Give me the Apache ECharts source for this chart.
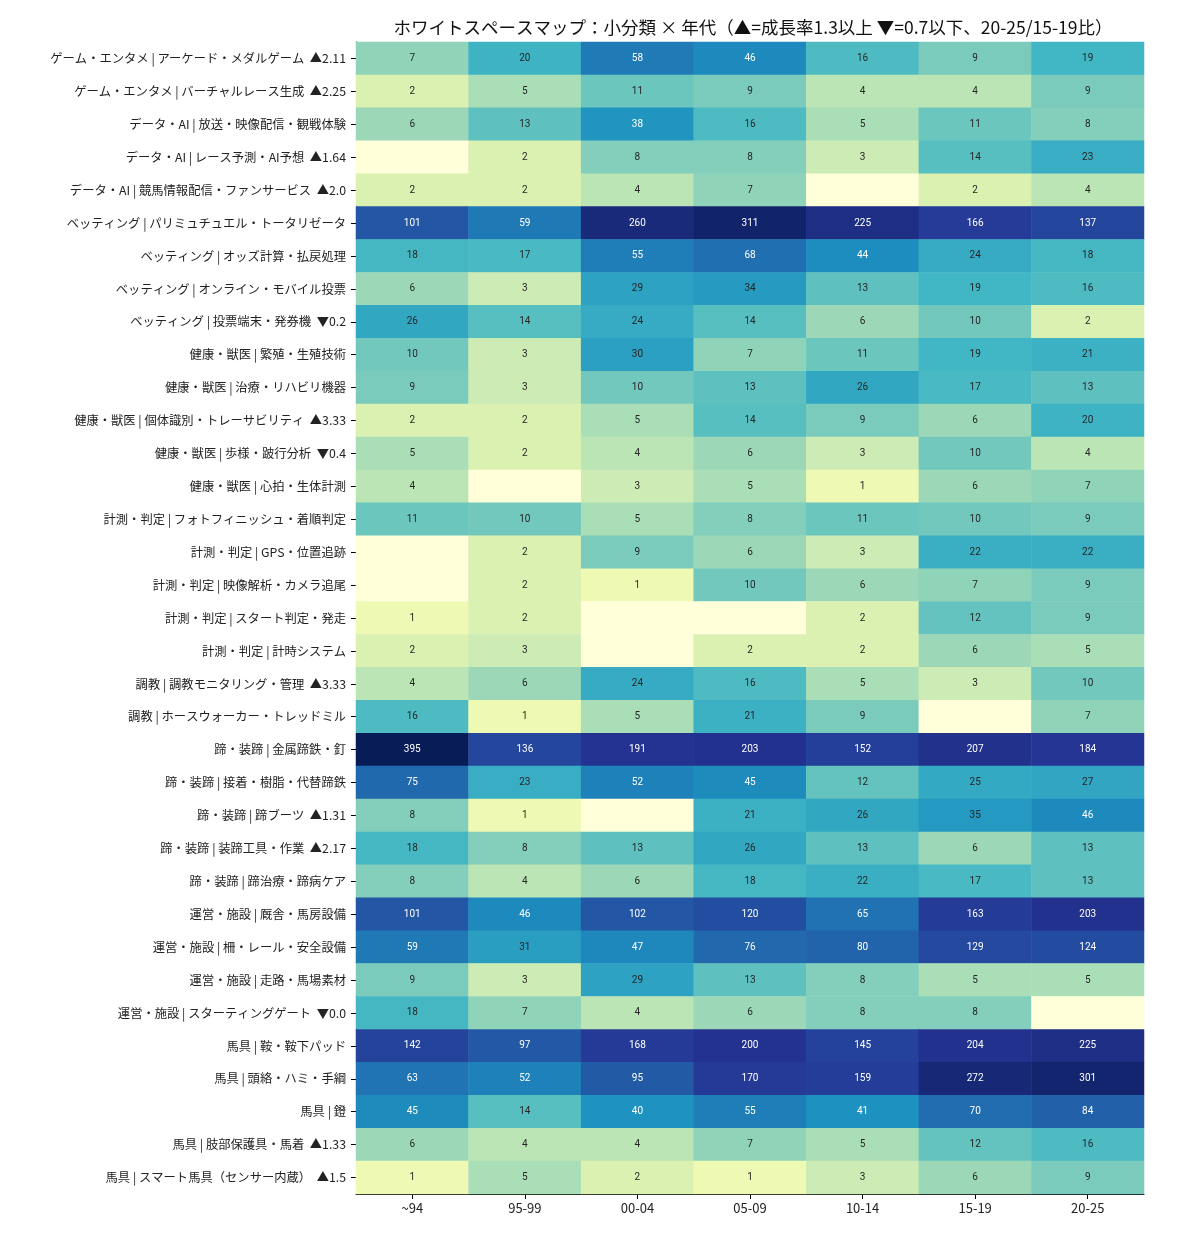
<!DOCTYPE html>
<html>
<head>
<meta charset="utf-8">
<script src="https://cdn.jsdelivr.net/npm/echarts@6/dist/echarts.min.js"></script>
<style>
  html, body { margin: 0; padding: 0; background: #fff; }
  #main { width: 1188px; height: 1236px; }
</style>
</head>
<body>
<div id="main"></div>
<script>
// 年代（列）
var periods = ['~94', '95-99', '00-04', '05-09', '10-14', '15-19', '20-25']
// 小分類（行）
var subCats = [
  'ゲーム・エンタメ | アーケード・メダルゲーム  ▲2.11',
  'ゲーム・エンタメ | バーチャルレース生成  ▲2.25',
  'データ・AI | 放送・映像配信・観戦体験',
  'データ・AI | レース予測・AI予想  ▲1.64',
  'データ・AI | 競馬情報配信・ファンサービス  ▲2.0',
  'ベッティング | パリミュチュエル・トータリゼータ',
  'ベッティング | オッズ計算・払戻処理',
  'ベッティング | オンライン・モバイル投票',
  'ベッティング | 投票端末・発券機  ▼0.2',
  '健康・獣医 | 繁殖・生殖技術',
  '健康・獣医 | 治療・リハビリ機器',
  '健康・獣医 | 個体識別・トレーサビリティ  ▲3.33',
  '健康・獣医 | 歩様・跛行分析  ▼0.4',
  '健康・獣医 | 心拍・生体計測',
  '計測・判定 | フォトフィニッシュ・着順判定',
  '計測・判定 | GPS・位置追跡',
  '計測・判定 | 映像解析・カメラ追尾',
  '計測・判定 | スタート判定・発走',
  '計測・判定 | 計時システム',
  '調教 | 調教モニタリング・管理  ▲3.33',
  '調教 | ホースウォーカー・トレッドミル',
  '蹄・装蹄 | 金属蹄鉄・釘',
  '蹄・装蹄 | 接着・樹脂・代替蹄鉄',
  '蹄・装蹄 | 蹄ブーツ  ▲1.31',
  '蹄・装蹄 | 装蹄工具・作業  ▲2.17',
  '蹄・装蹄 | 蹄治療・蹄病ケア',
  '運営・施設 | 厩舎・馬房設備',
  '運営・施設 | 柵・レール・安全設備',
  '運営・施設 | 走路・馬場素材',
  '運営・施設 | スターティングゲート  ▼0.0',
  '馬具 | 鞍・鞍下パッド',
  '馬具 | 頭絡・ハミ・手綱',
  '馬具 | 鐙',
  '馬具 | 肢部保護具・馬着  ▲1.33',
  '馬具 | スマート馬具（センサー内蔵）  ▲1.5'
]
// 件数（行ごと、列は periods の順）
var counts = [
  [7, 20, 58, 46, 16, 9, 19],
  [2, 5, 11, 9, 4, 4, 9],
  [6, 13, 38, 16, 5, 11, 8],
  [0, 2, 8, 8, 3, 14, 23],
  [2, 2, 4, 7, 0, 2, 4],
  [101, 59, 260, 311, 225, 166, 137],
  [18, 17, 55, 68, 44, 24, 18],
  [6, 3, 29, 34, 13, 19, 16],
  [26, 14, 24, 14, 6, 10, 2],
  [10, 3, 30, 7, 11, 19, 21],
  [9, 3, 10, 13, 26, 17, 13],
  [2, 2, 5, 14, 9, 6, 20],
  [5, 2, 4, 6, 3, 10, 4],
  [4, 0, 3, 5, 1, 6, 7],
  [11, 10, 5, 8, 11, 10, 9],
  [0, 2, 9, 6, 3, 22, 22],
  [0, 2, 1, 10, 6, 7, 9],
  [1, 2, 0, 0, 2, 12, 9],
  [2, 3, 0, 2, 2, 6, 5],
  [4, 6, 24, 16, 5, 3, 10],
  [16, 1, 5, 21, 9, 0, 7],
  [395, 136, 191, 203, 152, 207, 184],
  [75, 23, 52, 45, 12, 25, 27],
  [8, 1, 0, 21, 26, 35, 46],
  [18, 8, 13, 26, 13, 6, 13],
  [8, 4, 6, 18, 22, 17, 13],
  [101, 46, 102, 120, 65, 163, 203],
  [59, 31, 47, 76, 80, 129, 124],
  [9, 3, 29, 13, 8, 5, 5],
  [18, 7, 4, 6, 8, 8, 0],
  [142, 97, 168, 200, 145, 204, 225],
  [63, 52, 95, 170, 159, 272, 301],
  [45, 14, 40, 55, 41, 70, 84],
  [6, 4, 4, 7, 5, 12, 16],
  [1, 5, 2, 1, 3, 6, 9]
]
// YlGnBu
var ylgnbu = ['#ffffd9', '#edf8b1', '#c7e9b4', '#7fcdbb', '#41b6c4', '#1d91c0', '#225ea8', '#253494', '#081d58']

var maxVal = 0
var heatData = []
for (var r = 0; r < counts.length; r++) {
  for (var c = 0; c < periods.length; c++) {
    var v = counts[r][c]
    if (v > maxVal) maxVal = v
    heatData.push({
      value: [c, r, v, Math.log1p(v)],
      label: { color: v >= 37 ? '#ffffff' : '#262626' }
    })
  }
}

var chart = echarts.init(document.getElementById('main'))
var option = {
  animation: false,
  backgroundColor: '#fff',
  textStyle: { fontFamily: '"Noto Sans CJK JP", "Noto Sans", sans-serif' },
  title: {
    text: 'ホワイトスペースマップ：小分類 × 年代（▲=成長率1.3以上 ▼=0.7以下、20-25/15-19比）',
    left: 748,
    textAlign: 'center',
    top: 14,
    textStyle: {
      fontSize: 17.5,
      fontWeight: 'normal',
      color: '#111',
      fontFamily: '"Noto Sans CJK JP", sans-serif'
    }
  },
  grid: {
    left: 356,
    right: 44,
    top: 42,
    bottom: 42
  },
  xAxis: {
    type: 'category',
    data: periods,
    splitArea: { show: false },
    axisLine: { show: true, lineStyle: { color: '#000', width: 1 } },
    axisTick: { show: true, alignWithLabel: true, length: 5, lineStyle: { color: '#000' } },
    axisLabel: { fontSize: 13, color: '#222', margin: 8 }
  },
  yAxis: {
    type: 'category',
    data: subCats,
    inverse: true,
    splitArea: { show: false },
    axisLine: { show: true, lineStyle: { color: '#000', width: 1 } },
    axisTick: { show: true, alignWithLabel: true, length: 5, lineStyle: { color: '#000' } },
    axisLabel: { fontSize: 12.3, color: '#222', margin: 10 }
  },
  visualMap: {
    type: 'continuous',
    show: false,
    dimension: 3,
    min: 0,
    max: Math.log1p(maxVal),
    inRange: { color: ylgnbu }
  },
  series: [
    {
      type: 'heatmap',
      data: heatData,
      encode: { x: 0, y: 1 },
      itemStyle: { borderWidth: 0 },
      label: {
        show: true,
        fontSize: 10,
        fontFamily: 'Roboto, "Noto Sans", sans-serif',
        formatter: function (p) {
          return p.value[2] === 0 ? '' : String(p.value[2])
        }
      },
      emphasis: { disabled: true }
    }
  ]
}
chart.setOption(option)
</script>
</body>
</html>
